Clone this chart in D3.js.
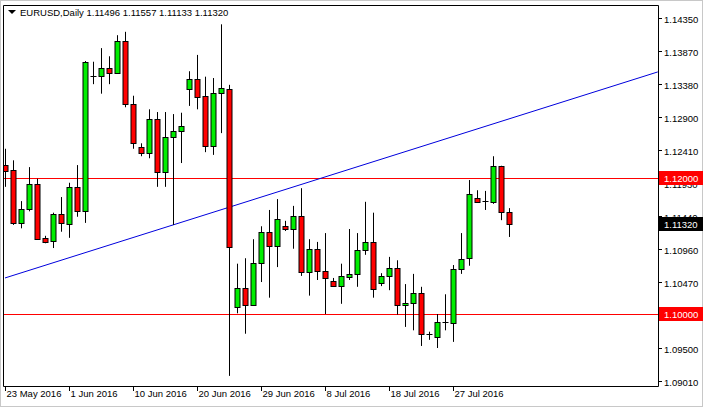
<!DOCTYPE html>
<html><head><meta charset="utf-8">
<script src="https://cdn.jsdelivr.net/npm/d3@7"></script>
<style>body{margin:0;background:#fff}svg{display:block}text{font-family:"Liberation Sans",Arial,sans-serif;font-size:9.5px}</style>
</head><body><div id="chart"></div>
<script>
// EURUSD daily candles (MT4 style, Sunday bars included)
const opens  = [1.1219,1.1212,1.1134,1.1154,1.1191,1.1112,1.1107,1.1147,1.1132,1.1187,1.1151,1.1350,1.1350,1.1362,1.1354,1.1401,1.1309,1.1246,1.1237,1.1287,1.1209,1.1260,1.1269,1.1331,1.1346,1.1321,1.1247,1.1325,1.1331,1.1010,1.1038,1.1013,1.1075,1.1121,1.1100,1.1129,1.1125,1.1144,1.1062,1.1096,1.1063,1.1049,1.1041,1.1054,1.1059,1.1094,1.1106,1.1046,1.1056,1.1068,1.1013,1.1016,1.1031,1.0969,1.0966,1.0987,1.0987,1.1066,1.1082,1.1171,1.1166,1.1165,1.1218,1.11496];
const highs  = [1.1243,1.1226,1.1166,1.1216,1.1199,1.1115,1.1149,1.1172,1.1193,1.1219,1.1372,1.1371,1.1391,1.1379,1.1410,1.1415,1.1321,1.1251,1.1301,1.1297,1.1297,1.1294,1.1296,1.1357,1.1381,1.1349,1.1347,1.1426,1.1337,1.1074,1.1082,1.1110,1.1129,1.1153,1.1169,1.1137,1.1159,1.1185,1.1110,1.1106,1.1119,1.1053,1.1074,1.1125,1.1119,1.1165,1.1149,1.1060,1.1084,1.1079,1.1044,1.1059,1.1040,1.0974,1.1000,1.1029,1.1072,1.1119,1.1197,1.1182,1.1181,1.1232,1.1218,1.11557];
const lows   = [1.1187,1.1131,1.1126,1.1151,1.1110,1.1104,1.1097,1.1121,1.1112,1.1143,1.1134,1.1338,1.1324,1.1338,1.1354,1.1304,1.1243,1.1232,1.1229,1.1187,1.1187,1.1131,1.1222,1.1306,1.1301,1.1238,1.1234,1.1266,1.0909,1.1001,1.0971,1.1012,1.1047,1.1024,1.1069,1.1122,1.1096,1.1056,1.1027,1.1050,1.1000,1.1040,1.1015,1.1050,1.1040,1.1087,1.1024,1.1041,1.1035,1.0999,1.0981,1.0976,1.0953,1.0962,1.0950,1.0976,1.0959,1.1059,1.1071,1.1165,1.1153,1.1162,1.1138,1.11133];
const closes = [1.1210,1.1134,1.1154,1.1191,1.1110,1.1106,1.1147,1.1134,1.1187,1.1151,1.1371,1.1349,1.1362,1.1354,1.1401,1.1309,1.1251,1.1237,1.1287,1.1209,1.1260,1.1269,1.1276,1.1346,1.1319,1.1247,1.1325,1.1332,1.1099,1.1038,1.1013,1.1075,1.1121,1.1100,1.1140,1.1125,1.1144,1.1062,1.1096,1.1063,1.1053,1.1041,1.1056,1.1059,1.1094,1.1106,1.1037,1.1056,1.1068,1.1013,1.1016,1.1031,1.0971,1.0970,1.0988,1.0988,1.1066,1.1081,1.1176,1.1165,1.1166,1.1218,1.1150,1.11320];
const dateLabels = ["23 May 2016","1 Jun 2016","10 Jun 2016","20 Jun 2016","29 Jun 2016","8 Jul 2016","18 Jul 2016","27 Jul 2016"];
const dateIdx = [0,8,16,24,32,40,48,56];
const priceTicks = [1.14350,1.13870,1.13380,1.12900,1.12410,1.11930,1.11440,1.10960,1.10470,1.09500,1.09010];
const hLines = [1.12000,1.10000];
const trend = [{i:0,p:1.1053},{i:81.6,p:1.1356}];
const last = 1.11320;

const W=703,H=407, L=3, R=658, T=5, B=386;
const svg=d3.select('#chart').append('svg').attr('width',W).attr('height',H);
svg.append('rect').attr('width',W).attr('height',H).attr('fill','#fff');
const x=d3.scaleLinear().domain([0,1]).range([5,13]);
const y=d3.scaleLinear().domain([1.10,1.12]).range([314,178]);

svg.append('clipPath').attr('id','c').append('rect').attr('x',L).attr('y',T).attr('width',R-L).attr('height',B-T);
const g=svg.append('g').attr('clip-path','url(#c)');

hLines.forEach(p=>g.append('line').attr('x1',L).attr('x2',R).attr('y1',Math.round(y(p))+.5).attr('y2',Math.round(y(p))+.5).attr('stroke','#ff0000'));
g.append('line').attr('x1',x(trend[0].i)).attr('y1',y(trend[0].p)).attr('x2',x(trend[1].i)).attr('y2',y(trend[1].p)).attr('stroke','#0000dd');

opens.forEach((o,i)=>{
  const c=closes[i], cx=Math.round(x(i))+.5;
  g.append('line').attr('x1',cx).attr('x2',cx).attr('y1',y(highs[i])).attr('y2',y(lows[i])).attr('stroke','#000');
  const top=Math.round(y(Math.max(o,c))), bot=Math.round(y(Math.min(o,c)));
  if(bot-top<2){
    g.append('line').attr('x1',cx-3).attr('x2',cx+3).attr('y1',top+.5).attr('y2',top+.5).attr('stroke','#000');
  } else {
    g.append('rect').attr('x',cx-2.5).attr('y',top+.5).attr('width',5).attr('height',bot-top)
      .attr('fill',c>=o?'#00ee00':'#ff0000').attr('stroke','#000');
  }
});

// frame
svg.append('path').attr('d',`M${L+.5},${T+.5}H${R+.5}V${B+.5}H${L+.5}Z`).attr('fill','none').attr('stroke','#000');
svg.append('rect').attr('x',0).attr('y',0).attr('width',W).attr('height',H).attr('fill','none').attr('stroke','#c8c8c8').attr('stroke-width',2);

// price axis
priceTicks.forEach(p=>{
  const yy=Math.round(y(p))+.5;
  svg.append('line').attr('x1',R).attr('x2',R+4).attr('y1',yy).attr('y2',yy).attr('stroke','#000');
  svg.append('text').attr('x',R+6).attr('y',yy+4).text(p.toFixed(5));
});
hLines.forEach(p=>{
  const yy=Math.round(y(p));
  svg.append('rect').attr('x',R+1).attr('y',yy-7).attr('width',44).attr('height',14).attr('fill','#ff0000');
  svg.append('text').attr('x',R+6).attr('y',yy+4).attr('fill','#fff').text(p.toFixed(5));
});
{
  const yy=Math.round(y(last));
  svg.append('rect').attr('x',R+1).attr('y',yy-7).attr('width',44).attr('height',14).attr('fill','#000');
  svg.append('text').attr('x',R+6).attr('y',yy+4).attr('fill','#fff').text(last.toFixed(5));
}

// date axis
dateIdx.forEach((d,k)=>{
  const xx=Math.round(x(d))+.5;
  svg.append('line').attr('x1',xx).attr('x2',xx).attr('y1',B).attr('y2',B+5).attr('stroke','#000');
  svg.append('text').attr('x',xx+1).attr('y',397).text(dateLabels[k]);
});

// header
svg.append('path').attr('d','M8,10h8l-4,4z').attr('fill','#000');
svg.append('text').attr('x',20).attr('y',16).text(`EURUSD,Daily  ${opens[63].toFixed(5)} ${highs[63].toFixed(5)} ${lows[63].toFixed(5)} ${closes[63].toFixed(5)}`);
</script></body></html>
